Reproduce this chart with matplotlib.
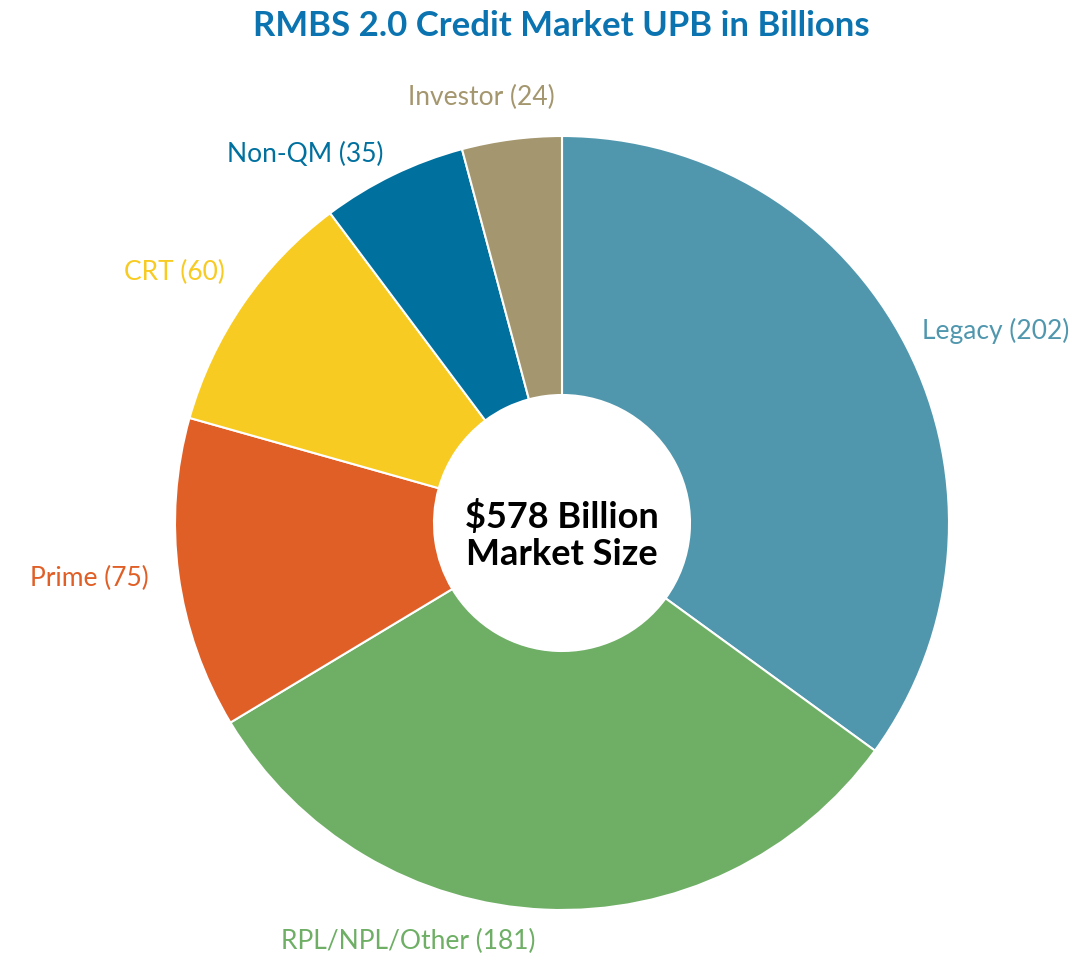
import numpy as np
import matplotlib.pyplot as plt

# Datos del gráfico
categorias = ["Legacy", "RPL/NPL/Other", "Prime", "CRT", "Non-QM", "Investor"]
valores = [202, 181, 75, 60, 35, 24]
colores = ["#5097AE", "#6EAF65", "#E05F27", "#F8CB22", "#00709F", "#A4976F"]
titulo = "RMBS 2.0 Credit Market UPB in Billions"
texto_centro = "$578 Billion\nMarket Size"

plt.rcParams['font.family'] = ['Lato', 'DejaVu Sans']

fig = plt.figure(figsize=(10.82, 9.58), dpi=100)
ax = fig.add_axes([0, 0, 1, 1])

cx, cy, r = 562, 435, 387
etiquetas = [f"{c} ({v})" for c, v in zip(categorias, valores)]
wedges, textos = ax.pie(valores, labels=etiquetas, colors=colores,
                        startangle=90, counterclock=False,
                        center=(cx, cy), radius=r, labeldistance=1.07,
                        wedgeprops=dict(width=r - 128, edgecolor='white', linewidth=1.5),
                        textprops=dict(fontsize=19), frame=True)
ax.axis('off')
ax.set_xlim(0, 1082)
ax.set_ylim(0, 958)
ax.set_aspect('equal')

# pequeños desplazamientos de las etiquetas (px)
ajustes = [(-9, 4), (-8, -5), (-3, 0), (4, 16), (2, -4), (47, 15)]

for w, t, c, (dx, dy) in zip(wedges, textos, colores, ajustes):
    t.set_color(c)
    ang = np.deg2rad((w.theta1 + w.theta2) / 2)
    t.set_ha('left' if np.cos(ang) > 0 else 'right')
    x, y = t.get_position()
    t.set_position((x + dx, y + dy))

ax.text(cx, cy - 12, texto_centro, ha='center', va='center', fontsize=26,
        fontweight='bold', color='black', linespacing=1.12)

fig.text(0.519, 0.99, titulo, ha='center', va='top', fontsize=25,
         fontweight='bold', color='#0B74B0')

fig.savefig("out.png", dpi=100)
